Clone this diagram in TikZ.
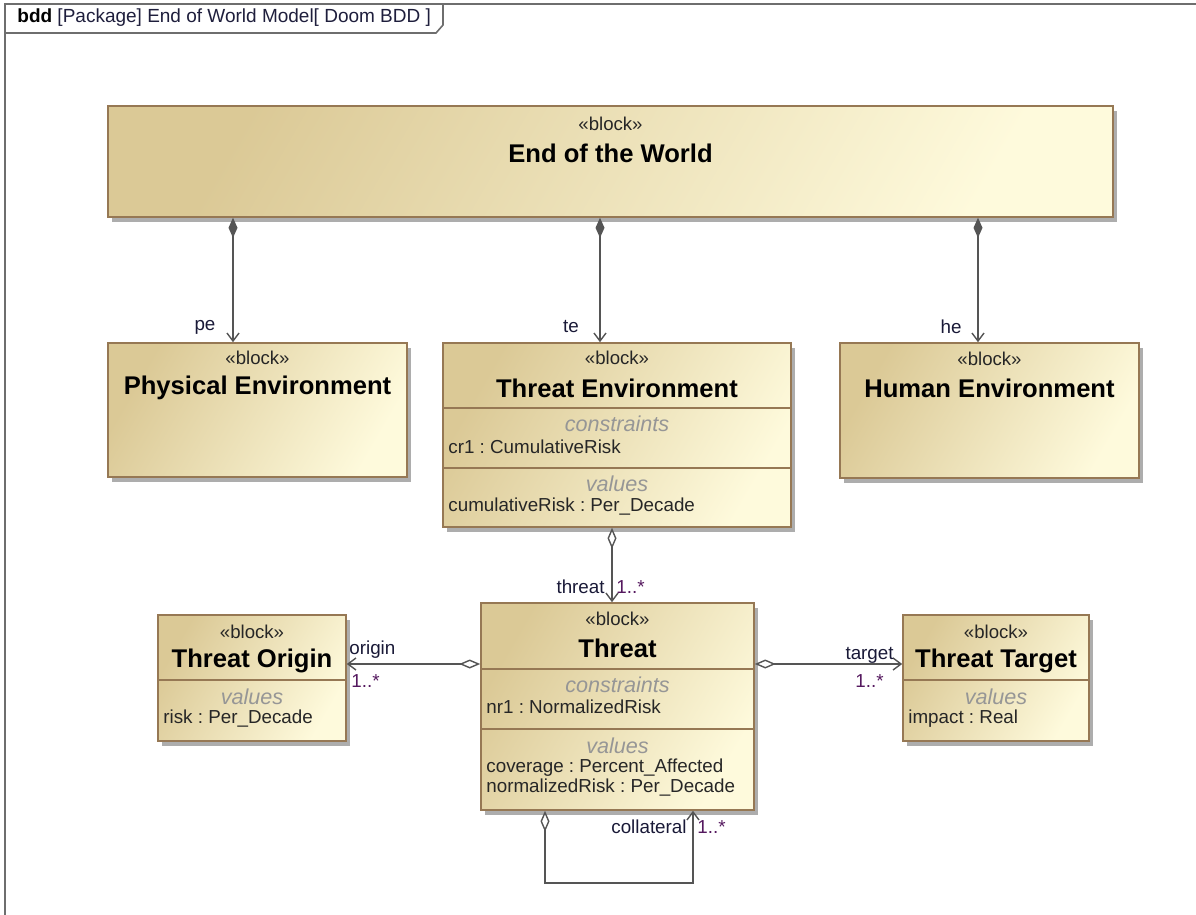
\documentclass[tikz,border=0pt]{standalone}
\usepackage{fontspec}
\setmainfont{Liberation Sans}
\usetikzlibrary{arrows.meta,shadows,fit}
\frenchspacing

\definecolor{blkdark}{RGB}{219,201,150}
\definecolor{blklight}{RGB}{254,250,220}
\definecolor{blkedge}{RGB}{150,120,84}
\definecolor{framegray}{RGB}{110,110,110}
\definecolor{linegray}{RGB}{85,85,85}
\definecolor{compgray}{RGB}{150,150,150}
\definecolor{rolecol}{RGB}{25,25,55}
\definecolor{multcol}{RGB}{85,25,95}
\definecolor{hdrcol}{RGB}{30,30,60}

\tikzset{
  blockbox/.style={draw=blkedge, line width=0.8pt, top color=blkdark,
    bottom color=blklight, shading angle=60, inner sep=0pt,
    drop shadow={shadow xshift=2pt, shadow yshift=-2.4pt, fill=black!32, opacity=1}},
  compline/.style={draw=blkedge, line width=0.8pt},
  stereo/.style={font=\fontsize{9.3}{11}\selectfont, text=black!85, inner sep=0pt},
  bname/.style={font=\fontsize{12.8}{15}\selectfont\bfseries, text=black, inner sep=0pt},
  comphead/.style={font=\fontsize{10.8}{13}\selectfont\itshape, text=compgray, inner sep=0pt},
  attr/.style={font=\fontsize{9.4}{11}\selectfont, text=black!85, inner sep=0pt, anchor=west},
  role/.style={font=\fontsize{9.4}{11}\selectfont, text=rolecol, inner sep=0pt},
  mult/.style={font=\fontsize{9.4}{11}\selectfont, text=multcol, inner sep=0pt},
  conn/.style={draw=linegray, line width=0.7pt},
  comp/.style={conn, {Diamond[length=10pt,width=4.5pt]}-{Straight Barb[length=4pt,width=6pt]}},
  aggr/.style={conn, {Diamond[fill=white,length=10.5pt,width=4.5pt]}-{Straight Barb[length=4pt,width=6pt]}},
  framestyle/.style={draw=framegray, line width=0.8pt},
}

\begin{document}
\begin{tikzpicture}[x=0.5pt,y=-0.5pt]
\useasboundingbox (0,0) rectangle (1196,915);

% diagram frame and its name tab
\draw[framestyle] (5,915) -- (5,4) -- (1196,4);
\draw[framestyle] (5,33) -- (436,33) -- (443,25) -- (443,4);
\node[anchor=west, inner sep=0pt, font=\fontsize{9.5}{11}\selectfont, text=hdrcol] (hdr) at (17,18)
  {\textcolor{black}{\bfseries bdd} [Package] End of World Model[ Doom BDD ]};

% corner points of the blocks
\coordinate (eowA) at (108,106);  \coordinate (eowB) at (1113,217);
\coordinate (peA)  at (108,343);  \coordinate (peB)  at (407,477);
\coordinate (teA)  at (443,343);  \coordinate (teB)  at (791,527);
\coordinate (heA)  at (840,343);  \coordinate (heB)  at (1139,478);
\coordinate (thrA) at (481,603);  \coordinate (thrB) at (754,810);
\coordinate (torA) at (158,615);  \coordinate (torB) at (346,741);
\coordinate (ttgA) at (903,615);  \coordinate (ttgB) at (1089,741);

% End of the World
\node[blockbox, fit=(eowA)(eowB)] (eow) {};
\node[stereo] (eow-st) at (610.5,124) {«block»};
\node[bname]  (eow-nm) at (610.5,153) {End of the World};

% Physical Environment
\node[blockbox, fit=(peA)(peB)] (pe) {};
\node[stereo] (pe-st) at (257.5,358) {«block»};
\node[bname]  (pe-nm) at (257.5,388) {Physical Environment};

% Threat Environment
\node[blockbox, fit=(teA)(teB)] (te) {};
\draw[compline] (te.west |- 0,408) -- (te.east |- 0,408);
\draw[compline] (te.west |- 0,468) -- (te.east |- 0,468);
\node[stereo]   (te-st) at (617,358) {«block»};
\node[bname]    (te-nm) at (617,388) {Threat Environment};
\node[comphead] (te-ch) at (617,424) {constraints};
\node[attr]     (te-c1) at (448,447) {cr1 : CumulativeRisk};
\node[comphead] (te-vh) at (617,484) {values};
\node[attr]     (te-v1) at (448,507) {cumulativeRisk : Per\_Decade};

% Human Environment
\node[blockbox, fit=(heA)(heB)] (he) {};
\node[stereo] (he-st) at (989.5,359) {«block»};
\node[bname]  (he-nm) at (989.5,388) {Human Environment};

% Threat
\node[blockbox, fit=(thrA)(thrB)] (thr) {};
\draw[compline] (thr.west |- 0,669) -- (thr.east |- 0,669);
\draw[compline] (thr.west |- 0,729) -- (thr.east |- 0,729);
\node[stereo]   (thr-st) at (617.5,619) {«block»};
\node[bname]    (thr-nm) at (617.5,648) {Threat};
\node[comphead] (thr-ch) at (617.5,685) {constraints};
\node[attr]     (thr-c1) at (486,707) {nr1 : NormalizedRisk};
\node[comphead] (thr-vh) at (617.5,746) {values};
\node[attr]     (thr-v1) at (486,768) {coverage : Percent\_Affected};
\node[attr]     (thr-v2) at (486,788) {normalizedRisk : Per\_Decade};

% Threat Origin
\node[blockbox, fit=(torA)(torB)] (tor) {};
\draw[compline] (tor.west |- 0,680) -- (tor.east |- 0,680);
\node[stereo]   (tor-st) at (252,632) {«block»};
\node[bname]    (tor-nm) at (252,661) {Threat Origin};
\node[comphead] (tor-vh) at (252,697) {values};
\node[attr]     (tor-v1) at (163,719) {risk : Per\_Decade};

% Threat Target
\node[blockbox, fit=(ttgA)(ttgB)] (ttg) {};
\draw[compline] (ttg.west |- 0,680) -- (ttg.east |- 0,680);
\node[stereo]   (ttg-st) at (996,632) {«block»};
\node[bname]    (ttg-nm) at (996,661) {Threat Target};
\node[comphead] (ttg-vh) at (996,697) {values};
\node[attr]     (ttg-v1) at (908,719) {impact : Real};

% composition: End of the World owns the three environments
\draw[comp] (eow.south -| 233,0) -- (pe.north -| 233,0);
\draw[comp] (eow.south -| 600,0) -- (te.north -| 600,0);
\draw[comp] (eow.south -| 978,0) -- (he.north -| 978,0);
\node[role] (lbl-pe) at (205,327) {pe};
\node[role] (lbl-te) at (571,327) {te};
\node[role] (lbl-he) at (951,327) {he};

% aggregation: Threat Environment to Threat
\draw[aggr] (te.south -| 612,0) -- (thr.north -| 612,0);
\node[role, anchor=east] (lbl-thr) at (605,587) {threat};
\node[mult, anchor=west] (mul-thr) at (616,587) {1..*};

% aggregation: Threat to Threat Origin
\draw[aggr] (thr.west |- 0,664) -- (tor.east |- 0,664);
\node[role, anchor=west] (lbl-or) at (349,650) {origin};
\node[mult, anchor=west] (mul-or) at (351,681) {1..*};

% aggregation: Threat to Threat Target
\draw[aggr] (thr.east |- 0,664) -- (ttg.west |- 0,664);
\node[role, anchor=east] (lbl-tg) at (894,655) {target};
\node[mult, anchor=east] (mul-tg) at (884,681) {1..*};

% aggregation: Threat to itself
\draw[aggr] (thr.south -| 545,0) |- (693,883) -- (thr.south -| 693,0);
\node[role, anchor=east] (lbl-col) at (687,827) {collateral};
\node[mult, anchor=west] (mul-col) at (697,827) {1..*};
\end{tikzpicture}
\end{document}
